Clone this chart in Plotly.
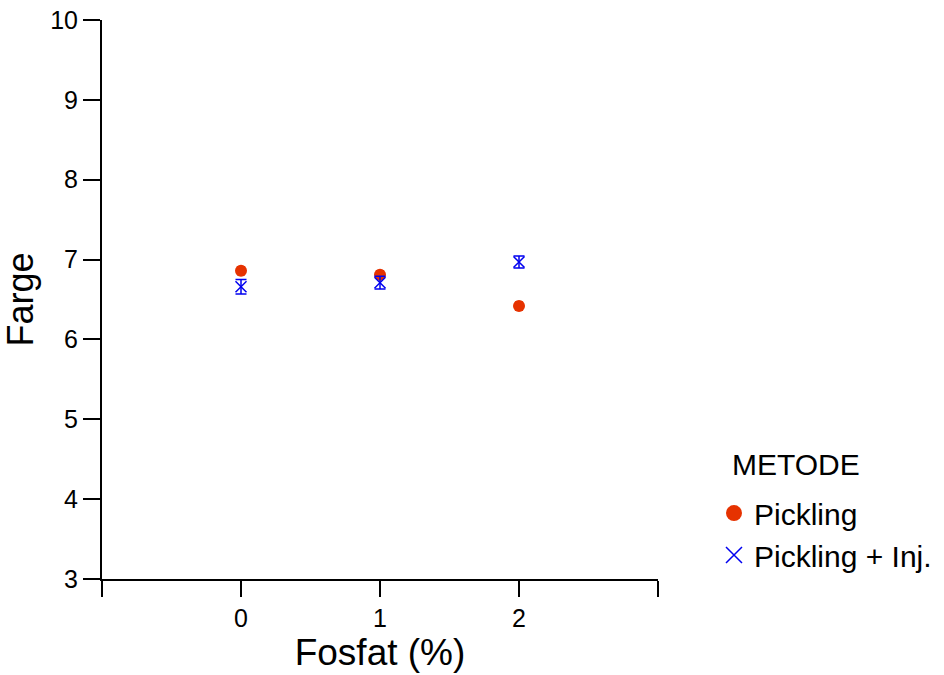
import plotly.graph_objects as go

fosfat = [0, 1, 2]
pickling = [6.86, 6.81, 6.42]
pickling_err = [0.05, 0.05, 0.05]
inj = [6.66, 6.71, 6.97]
inj_err = [0.09, 0.08, 0.075]

xtickvals = [-1, 0, 1, 2, 3]
xticktext = ["", "0", "1", "2", ""]
ytickvals = [3, 4, 5, 6, 7, 8, 9, 10]

red = "#E63200"
blue = "#0000F0"
font = "Liberation Sans, Arial, sans-serif"

fig = go.Figure()
fig.add_trace(go.Scatter(
    x=fosfat, y=pickling, mode="markers", name="Pickling", showlegend=False,
    marker=dict(symbol="circle", size=12, color=red, line=dict(width=0)),
    error_y=dict(type="data", array=pickling_err, color=red, thickness=1.5, width=4),
))
fig.add_trace(go.Scatter(
    x=fosfat, y=inj, mode="markers", name="Pickling + Inj.", showlegend=False,
    marker=dict(symbol="x-thin-open", size=11, color=blue, line=dict(width=1.5, color=blue)),
    error_y=dict(type="data", array=inj_err, color=blue, thickness=1.5, width=5.5),
))
# legend entries
fig.add_trace(go.Scatter(
    x=[None], y=[None], mode="markers", name="Pickling",
    marker=dict(symbol="circle", size=22, color=red, line=dict(width=0)),
))
fig.add_trace(go.Scatter(
    x=[None], y=[None], mode="markers", name="Pickling + Inj.",
    marker=dict(symbol="x-thin-open", size=22, color=blue, line=dict(width=1.5, color=blue)),
))

fig.add_annotation(
    text="METODE", xref="paper", yref="paper", x=1.13, y=0.204,
    xanchor="left", yanchor="middle", showarrow=False,
    font=dict(size=30, family=font, color="black"),
)

fig.update_layout(
    width=944, height=675,
    margin=dict(l=102, r=286, t=20, b=96, autoexpand=False),
    plot_bgcolor="white", paper_bgcolor="white",
    font=dict(family=font, size=25, color="black"),
    showlegend=True,
    legend=dict(
        x=1.1007, xanchor="left", y=0.1645, yanchor="top",
        font=dict(size=30), bgcolor="rgba(0,0,0,0)",
        itemsizing="trace", tracegroupgap=0,
    ),
    xaxis=dict(
        range=[-1, 3], tickvals=xtickvals, ticktext=xticktext,
        showgrid=False, zeroline=False, showline=True, linecolor="black", linewidth=2,
        ticks="outside", ticklen=16, tickwidth=2, tickcolor="black",
        title=dict(text="Fosfat (%)", font=dict(size=37), standoff=6),
        tickfont=dict(size=25), automargin=False,
    ),
    yaxis=dict(
        range=[3, 10], tickvals=ytickvals,
        showgrid=False, zeroline=False, showline=True, linecolor="black", linewidth=2,
        ticks="outside", ticklen=17, tickwidth=2, tickcolor="black",
        title=dict(text="Farge", font=dict(size=36), standoff=10),
        tickfont=dict(size=25), automargin=False,
    ),
)

fig.write_html("out.html")
